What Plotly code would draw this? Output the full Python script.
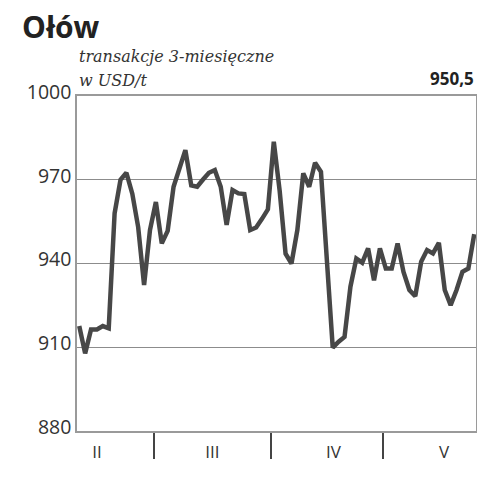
import plotly.graph_objs as go

# trading-day index and 3-month lead price, USD/t
day = list(range(68))
price = [917.6, 907.8, 916.4, 916.4, 917.6, 916.8, 958.0, 970.0, 972.5, 965.0,
         953.0, 932.3, 952.0, 962.0, 947.2, 951.7, 967.5, 973.5, 980.6, 968.0,
         967.5, 970.1, 972.5, 973.5, 967.5, 953.8, 966.3, 965.1, 964.9, 952.0,
         952.9, 956.0, 959.4, 983.6, 966.0, 943.5, 940.0, 952.0, 972.3, 967.5,
         976.1, 972.9, 941.0, 909.9, 912.0, 913.7, 931.7, 941.8, 940.3, 945.4,
         934.0, 945.4, 938.2, 938.2, 947.2, 937.0, 930.5, 928.3, 940.6, 944.8,
         943.6, 947.4, 930.5, 925.1, 930.5, 937.0, 938.2, 950.5]

month_labels = ['II', 'III', 'IV', 'V']
month_label_at = [3.0, 22.6, 43.1, 61.9]
month_breaks = [12.6, 32.6, 51.5]

y_ticks = [880, 910, 940, 970, 1000]
last_value = '950,5'

# page body has an 8px margin and clips the figure to the body width
W, H = 469, 464

trace = go.Scatter(x=day,
                   y=price,
                   mode='lines',
                   line=dict(color='#474747', width=4.5),
                   hoverinfo='skip')

layout = go.Layout(
    width=W,
    height=H,
    margin=dict(l=69, r=1, t=88, b=41),
    paper_bgcolor='white',
    plot_bgcolor='white',
    showlegend=False,
    title=dict(text='<b>Ołów</b>',
               font=dict(family='Open Sans', size=30, color='#222'),
               xref='container', x=14 / W, xanchor='left',
               yref='container', y=1 - 19 / H, yanchor='middle'),
    xaxis=dict(range=[-0.38, 67.3],
               automargin=False,
               tickmode='array',
               tickvals=month_label_at,
               ticktext=month_labels,
               ticks='',
               ticklabelstandoff=5,
               tickfont=dict(family='Open Sans', size=17, color='#333'),
               showgrid=False,
               zeroline=False,
               showline=True,
               linecolor='#9a9a9a',
               linewidth=1.5,
               mirror=True,
               minor=dict(tickmode='array',
                          tickvals=month_breaks,
                          ticks='outside',
                          ticklen=26,
                          tickwidth=2,
                          tickcolor='#444',
                          showgrid=False)),
    yaxis=dict(range=[880, 1000],
               automargin=False,
               tickmode='array',
               tickvals=y_ticks,
               ticks='',
               ticklabelstandoff=0,
               ticklabelshift=-4,
               tickfont=dict(family='Open Sans', size=19.5, color='#333'),
               showgrid=True,
               gridcolor='#8c8c8c',
               gridwidth=1.2,
               zeroline=False,
               showline=True,
               linecolor='#9a9a9a',
               linewidth=1.5,
               mirror=True),
    annotations=[
        dict(text='transakcje 3-miesięczne',
             xref='paper', yref='paper', x=0, y=1, xanchor='left', yanchor='bottom',
             yshift=28, showarrow=False,
             font=dict(family='DejaVu Serif', size=16, color='#333', style='italic')),
        dict(text='w USD/t',
             xref='paper', yref='paper', x=0, y=1, xanchor='left', yanchor='bottom',
             yshift=4, showarrow=False,
             font=dict(family='DejaVu Serif', size=16, color='#333', style='italic')),
        dict(text='<b>' + last_value + '</b>',
             xref='paper', yref='paper', x=1, y=1, xanchor='right', yanchor='bottom',
             yshift=4, showarrow=False,
             font=dict(family='Open Sans', size=17, color='#222')),
    ]
)

fig = go.Figure(data=[trace], layout=layout)
fig.write_html('out.html')
